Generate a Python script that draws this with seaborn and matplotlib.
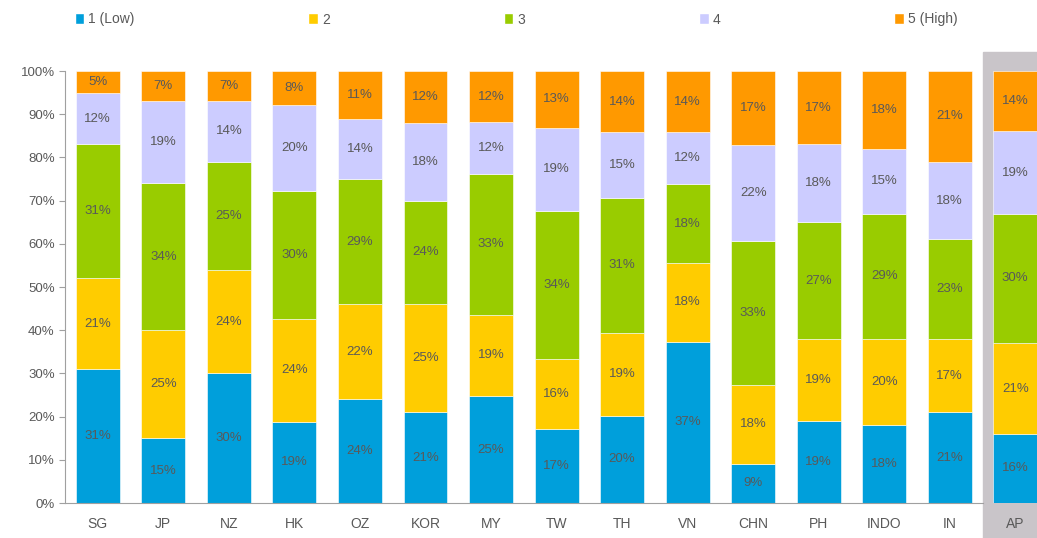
import seaborn as sns
import matplotlib.pyplot as plt
import numpy as np
import pandas as pd
from matplotlib.patches import Patch, Rectangle

# survey shares per market (%)
markets = ["SG", "JP", "NZ", "HK", "OZ", "KOR", "MY", "TW", "TH", "VN",
           "CHN", "PH", "INDO", "IN", "AP"]
levels = ["1 (Low)", "2", "3", "4", "5 (High)"]
low = [31, 15, 30, 19, 24, 21, 25, 17, 20, 37, 9, 19, 18, 21, 16]
two = [21, 25, 24, 24, 22, 25, 19, 16, 19, 18, 18, 19, 20, 17, 21]
three = [31, 34, 25, 30, 29, 24, 33, 34, 31, 18, 33, 27, 29, 23, 30]
four = [12, 19, 14, 20, 14, 18, 12, 19, 15, 12, 22, 18, 15, 18, 19]
high = [5, 7, 7, 8, 11, 12, 12, 13, 14, 14, 17, 17, 18, 21, 14]

colors = ["#009fdb", "#ffcc00", "#99cc00", "#ccccff", "#ff9900"]
text_col = "#595959"

sns.set_style("white")
plt.rcParams["font.family"] = ["Liberation Sans", "DejaVu Sans"]

values = np.array([low, two, three, four, high], dtype=float)
shares = values / values.sum(axis=0) * 100

fig = plt.figure(figsize=(10.37, 5.38), dpi=100)
ax = fig.add_axes([65 / 1037, 35 / 538, (1037 - 65) / 1037, 432 / 538])
ax.set_facecolor("none")

# grey highlight behind the Asia Pacific column
fig.patches.append(Rectangle((983 / 1037, 0), 1 - 983 / 1037, 486 / 538,
                             transform=fig.transFigure, color="#c9c5c9",
                             zorder=-1))

bottom = np.zeros(len(markets))
for i, name in enumerate(levels):
    df = pd.DataFrame({"market": markets, "share": shares[i]})
    sns.barplot(data=df, x="market", y="share", color=colors[i], width=0.67,
                bottom=bottom, ax=ax, edgecolor="white", linewidth=0.4,
                saturation=1, errorbar=None)
    bars = ax.containers[-1]
    ax.bar_label(bars, labels=[f"{v}%" for v in values[i].astype(int)],
                 label_type="center", fontsize=9.5, color=text_col)
    bottom = bottom + shares[i]

ax.set_xlim(-0.5, 14.33)
ax.set_ylim(0, 100)
ax.set_yticks(np.arange(0, 101, 10))
ax.set_yticklabels([f"{t}%" for t in range(0, 101, 10)])
ax.set_xlabel("")
ax.set_ylabel("")
ax.set_xticks(np.arange(-0.5, 14, 1), minor=True)
ax.tick_params(axis="x", which="major", length=0, pad=10, labelsize=10,
               labelcolor=text_col)
ax.tick_params(axis="x", which="minor", length=4, color="#a0a0a0",
               direction="out")
ax.tick_params(axis="y", length=4, color="#a0a0a0", labelsize=9.5,
               labelcolor=text_col, direction="out", left=True)
for s in ["top", "right"]:
    ax.spines[s].set_visible(False)
for s in ["left", "bottom"]:
    ax.spines[s].set_color("#a0a0a0")
ax.spines["bottom"].set_bounds(-0.5, 13.5)

handles = [Patch(facecolor=c, label=l) for c, l in zip(colors, levels)]
fig.legend(handles=handles, loc="upper left", bbox_to_anchor=(62 / 1037, 1.0),
           ncol=5, frameon=False, fontsize=10, handlelength=0.7,
           handleheight=0.9, handletextpad=0.3, columnspacing=12.5,
           labelcolor=text_col)

fig.savefig("out.png", dpi=100)
